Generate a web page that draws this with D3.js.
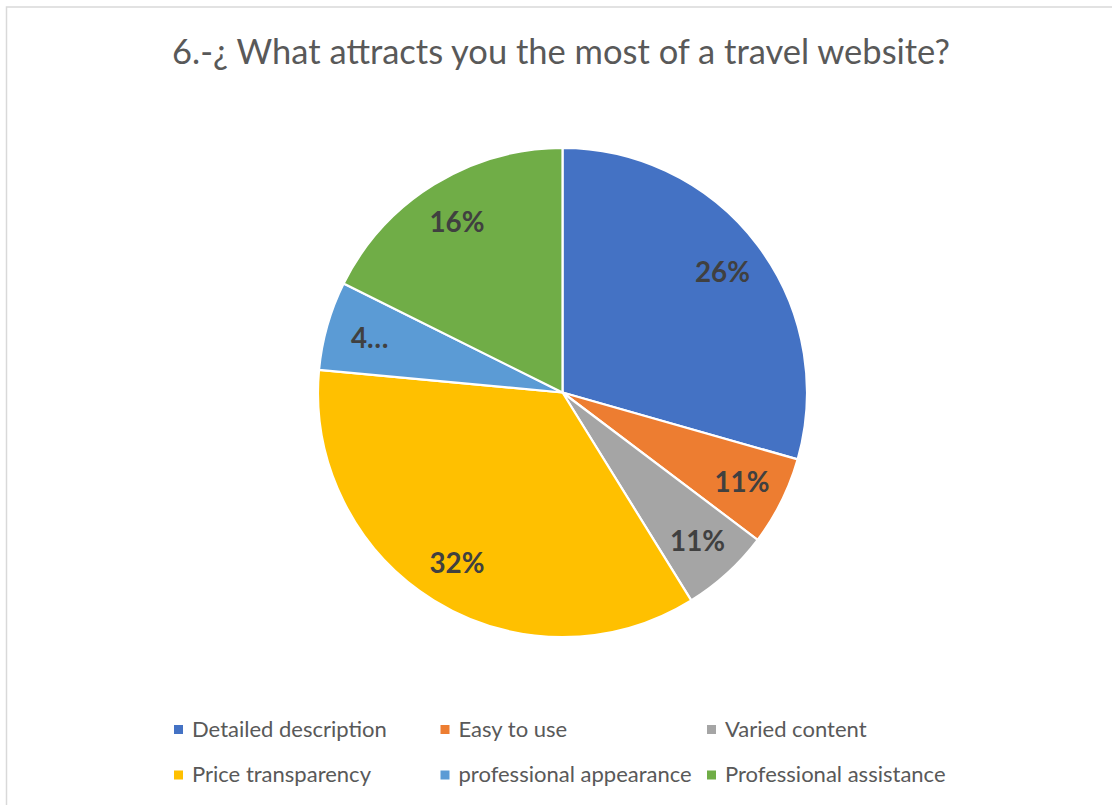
<!DOCTYPE html>
<html>
<head>
<meta charset="utf-8">
<script src="https://cdn.jsdelivr.net/npm/d3@7"></script>
<style>
  html, body { margin: 0; padding: 0; background: #ffffff; }
  svg { display: block; }
</style>
</head>
<body>
<svg id="chart" width="1112" height="805"></svg>
<script>
// Survey question 6: answer categories, number of respondents, shown data labels
const title = "6.-¿ What attracts you the most of a travel website?";
const categories = [
  "Detailed description",
  "Easy to use",
  "Varied content",
  "Price transparency",
  "professional appearance",
  "Professional assistance"
];
const responses = [5, 1, 1, 6, 1, 3];
const dataLabels = ["26%", "11%", "11%", "32%", "4…", "16%"];
const palette = ["#4472C4", "#ED7D31", "#A5A5A5", "#FFC000", "#5B9BD5", "#70AD47"];

const W = 1112, H = 805;
const FONT = "Lato, 'Open Sans', 'Liberation Sans', sans-serif";
const svg = d3.select("#chart");

// Chart-area frame (only the top and left edges fall inside the view)
svg.append("rect")
  .attr("x", 6.5).attr("y", 7)
  .attr("width", W + 40).attr("height", H + 40)
  .attr("fill", "#ffffff")
  .attr("stroke", "#d9d9d9")
  .attr("stroke-width", 1.5);

// Pick a font size so a string spans the wanted width
function fitSize(text, weight, width) {
  const probe = svg.append("text")
    .attr("font-family", FONT).attr("font-weight", weight)
    .attr("font-size", 100).text(text);
  const w = probe.node().getComputedTextLength();
  probe.remove();
  return 100 * width / w;
}

// Title
svg.append("text")
  .attr("x", 561).attr("y", 64)
  .attr("text-anchor", "middle")
  .attr("font-family", FONT)
  .attr("font-size", fitSize(title, 400, 778))
  .attr("fill", "#595959")
  .text(title);

// Pie
const cx = 562.5, cy = 392.5, R = 244.5;
const color = d3.scaleOrdinal().domain(categories).range(palette);
const pie = d3.pie().sort(null).value(d => d.value);
const slices = pie(categories.map((c, i) => ({ name: c, value: responses[i], label: dataLabels[i] })));

const arc = d3.arc().innerRadius(0).outerRadius(R);
const labelArc = d3.arc().innerRadius(R * 0.82).outerRadius(R * 0.82);

const g = svg.append("g").attr("transform", `translate(${cx},${cy})`);

g.selectAll("path.slice")
  .data(slices)
  .join("path")
  .attr("class", "slice")
  .attr("d", arc)
  .attr("fill", d => color(d.data.name))
  .attr("stroke", "#ffffff")
  .attr("stroke-width", 2.2)
  .attr("stroke-linejoin", "round");

const labelSize = fitSize("26%", 700, 55);
g.selectAll("text.value")
  .data(slices)
  .join("text")
  .attr("class", "value")
  .attr("transform", d => `translate(${labelArc.centroid(d)})`)
  .attr("text-anchor", "middle")
  .attr("dy", "0.36em")
  .attr("font-family", FONT)
  .attr("font-weight", 700)
  .attr("font-size", labelSize)
  .attr("fill", "#404040")
  .text(d => d.data.label);

// Legend: three columns, two rows
const legendSize = fitSize("Detailed description", 400, 195);
const colX = d3.scalePoint().domain([0, 1, 2]).range([174, 707]);
const rowY = d3.scalePoint().domain([0, 1]).range([729.5, 775]);

const items = svg.append("g")
  .selectAll("g.legend-item")
  .data(categories)
  .join("g")
  .attr("class", "legend-item")
  .attr("transform", (d, i) => `translate(${colX(i % 3)},${rowY(Math.floor(i / 3))})`);

items.append("rect")
  .attr("x", 0).attr("y", -4.5)
  .attr("width", 9).attr("height", 9)
  .attr("fill", d => color(d));

items.append("text")
  .attr("x", 18).attr("y", 7)
  .attr("font-family", FONT)
  .attr("font-size", legendSize)
  .attr("fill", "#595959")
  .text(d => d);
</script>
</body>
</html>
